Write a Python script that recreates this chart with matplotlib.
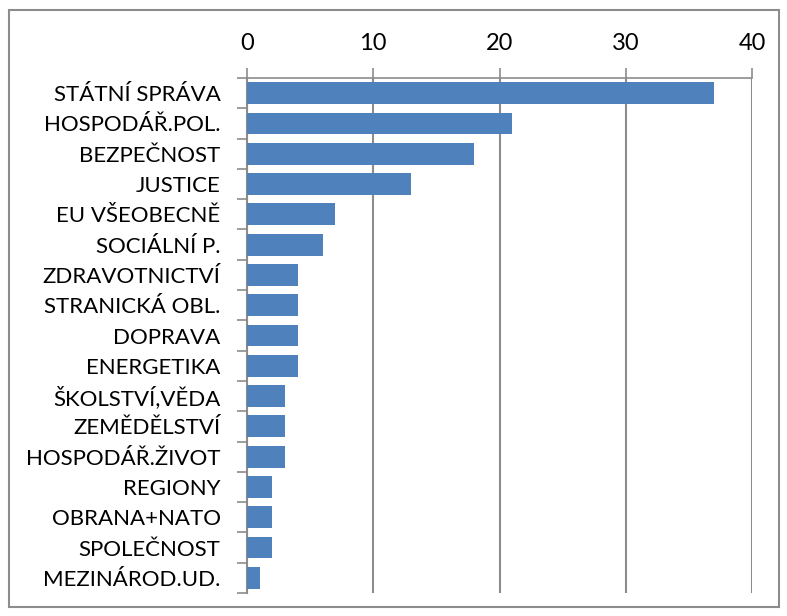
import numpy as np
import matplotlib.pyplot as plt
from matplotlib.patches import Rectangle

# Data
categories = ["STÁTNÍ SPRÁVA", "HOSPODÁŘ.POL.", "BEZPEČNOST", "JUSTICE",
              "EU VŠEOBECNĚ", "SOCIÁLNÍ P.", "ZDRAVOTNICTVÍ", "STRANICKÁ OBL.",
              "DOPRAVA", "ENERGETIKA", "ŠKOLSTVÍ,VĚDA", "ZEMĚDĚLSTVÍ",
              "HOSPODÁŘ.ŽIVOT", "REGIONY", "OBRANA+NATO", "SPOLEČNOST",
              "MEZINÁROD.UD."]
values = [37, 21, 18, 13, 7, 6, 4, 4, 4, 4, 3, 3, 3, 2, 2, 2, 1]
x_ticks = [0, 10, 20, 30, 40]

plt.rcParams['font.family'] = ['Lato', 'DejaVu Sans']
grey = '#8c8c8c'

fig = plt.figure(figsize=(7.87, 6.16), dpi=100)
ax = fig.add_axes([247 / 787, 1 - 593 / 616, 505 / 787, 515 / 616])

y = np.arange(len(categories))
ax.barh(y, values, height=0.72, color='#4f81bd', zorder=3)

ax.set_xlim(0, 40)
ax.set_ylim(len(categories) - 0.5, -0.5)

ax.xaxis.tick_top()
ax.set_xticks(x_ticks)
ax.set_xticklabels([str(t) for t in x_ticks], fontsize=17)
ax.tick_params(axis='x', direction='out', length=7, width=1.2, color=grey, pad=10)
ax.grid(axis='x', color=grey, linewidth=1.5, zorder=0)

ax.set_yticks(y)
ax.set_yticklabels(categories, fontsize=16)
ax.set_yticks(np.arange(len(categories) + 1) - 0.5, minor=True)
ax.tick_params(axis='y', which='major', length=0, pad=19)
ax.tick_params(axis='y', which='minor', length=7, width=1.2, color=grey)

for side in ['right', 'bottom']:
    ax.spines[side].set_visible(False)
ax.spines['top'].set_color(grey)
ax.spines['top'].set_linewidth(1.2)
ax.spines['left'].set_color(grey)
ax.spines['left'].set_linewidth(1.5)

# outer chart border
fig.patches.append(Rectangle((9 / 787, 1 - 607 / 616), 770 / 787, 597 / 616,
                             transform=fig.transFigure, fill=False,
                             edgecolor=grey, linewidth=1.5))

fig.savefig('out.png', dpi=100)
